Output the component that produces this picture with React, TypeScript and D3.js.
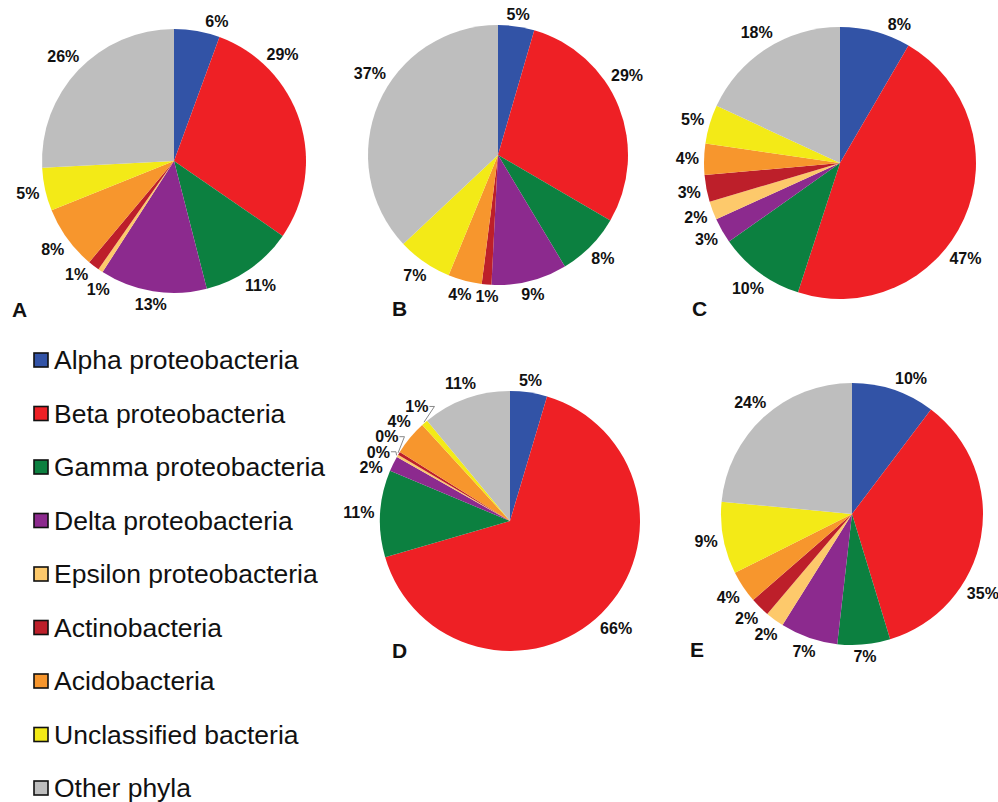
import { arc, pie, scalePoint } from "d3";
import type { PieArcDatum } from "d3";

const categories = [
  "Alpha proteobacteria",
  "Beta proteobacteria",
  "Gamma proteobacteria",
  "Delta proteobacteria",
  "Epsilon proteobacteria",
  "Actinobacteria",
  "Acidobacteria",
  "Unclassified bacteria",
  "Other phyla",
];

const colors = [
  "#3253a6",
  "#ee2025",
  "#0c8040",
  "#8c2a8e",
  "#fdc96b",
  "#bd1f2a",
  "#f7962d",
  "#f3ea17",
  "#bebebe",
];

// percent shares per sample, in category order
const sampleA = [5.6, 29.0, 11.4, 13.1, 0.6, 1.4, 7.8, 5.3, 25.8];
const sampleB = [4.5, 28.9, 8.0, 9.4, 0, 1.2, 4.2, 6.8, 37.0];
const sampleC = [8.4, 46.6, 10.2, 3.0, 2.2, 3.2, 3.7, 4.6, 18.1];
const sampleD = [4.6, 65.9, 10.8, 1.9, 0.3, 0.4, 4.3, 0.8, 11.0];
const sampleE = [10.3, 35.0, 6.5, 7.1, 2.3, 2.4, 4.0, 8.9, 23.5];

const W = 998;
const H = 802;
const FONT = "'Liberation Sans', Arial, Helvetica, sans-serif";
const LABEL_SIZE = 16;

interface Panel {
  id: string;
  values: number[];
  cx: number;
  cy: number;
  r: number;
  letterX: number;
  letterY: number;
  leaders?: boolean;
}

const panels: Panel[] = [
  { id: "A", values: sampleA, cx: 174, cy: 161, r: 132, letterX: 12, letterY: 317 },
  { id: "B", values: sampleB, cx: 498, cy: 155, r: 130, letterX: 392, letterY: 316 },
  { id: "C", values: sampleC, cx: 840, cy: 163, r: 136, letterX: 692, letterY: 316 },
  { id: "D", values: sampleD, cx: 510, cy: 521, r: 130, letterX: 392, letterY: 658, leaders: true },
  { id: "E", values: sampleE, cx: 852, cy: 514, r: 131, letterX: 690, letterY: 657 },
];

// hand-placed label nudges seen in the original (degrees)
const labelShift: Record<string, number> = {
  "A:0": 7,
  "A:1": -27,
  "B:1": -10,
  "B:8": 9,
  "C:0": 8,
  "C:1": 13,
  "E:0": 5,
  "E:1": 21,
};

interface Label {
  i: number;
  text: string;
  x: number;
  y: number;
  w: number;
  mid: number;
}

const pieGen = pie<number>().sort(null).value((d) => d);

function layoutLabels(p: Panel, arcs: PieArcDatum<number>[]): Label[] {
  const labels: Label[] = [];
  arcs.forEach((a, i) => {
    const v = p.values[i];
    if (v === 0) return;
    const text = `${Math.round(v)}%`;
    const w = ((text.length - 1) * 0.556 + 0.889) * LABEL_SIZE;
    const h = 12;
    const mid = (a.startAngle + a.endAngle) / 2 + ((labelShift[`${p.id}:${i}`] ?? 0) * Math.PI) / 180;
    const s = Math.sin(mid);
    const c = Math.cos(mid);
    const dist = p.r + 5 + (w / 2) * Math.abs(s) + (h / 2) * Math.abs(c);
    labels.push({ i, text, x: p.cx + dist * s, y: p.cy - dist * c, w, mid });
  });

  // nudge overlapping labels apart along the circle's tangent
  const gapY = 15;
  for (let iter = 0; iter < 300; iter++) {
    let moved = false;
    for (let a = 0; a < labels.length; a++) {
      for (let b = a + 1; b < labels.length; b++) {
        const [la, lb] = labels[a].mid < labels[b].mid ? [labels[a], labels[b]] : [labels[b], labels[a]];
        const overlapX = Math.abs(la.x - lb.x) < (la.w + lb.w) / 2 + 3;
        const overlapY = Math.abs(la.y - lb.y) < gapY;
        if (!overlapX || !overlapY) continue;
        const t = (la.mid + lb.mid) / 2;
        const tx = Math.cos(t);
        const ty = Math.sin(t);
        const step = 0.5;
        la.x -= tx * step;
        la.y -= ty * step;
        lb.x += tx * step;
        lb.y += ty * step;
        moved = true;
      }
    }
    if (!moved) break;
  }
  return labels;
}

function PiePanel({ p }: { p: Panel }) {
  const arcs = pieGen(p.values);
  const arcGen = arc<PieArcDatum<number>>().innerRadius(0).outerRadius(p.r);
  const labels = layoutLabels(p, arcs);

  return (
    <g>
      <g transform={`translate(${p.cx},${p.cy})`}>
        {arcs.map((a, i) =>
          p.values[i] > 0 ? <path key={i} d={arcGen(a) ?? ""} fill={colors[i]} /> : null
        )}
      </g>
      {p.leaders &&
        labels
          .filter((l) => p.values[l.i] < 1)
          .map((l) => {
            const left = l.x < p.cx;
            const ex = l.x + (left ? l.w / 2 + 1 : -l.w / 2 - 1);
            const tx = p.cx + (p.r + 1) * Math.sin(l.mid);
            const ty = p.cy - (p.r + 1) * Math.cos(l.mid);
            return (
              <polyline
                key={`ld${l.i}`}
                points={`${ex},${l.y} ${ex + (left ? 5 : -5)},${l.y} ${tx},${ty}`}
                fill="none"
                stroke="#7a7a7a"
                strokeWidth={0.9}
              />
            );
          })}
      {labels.map((l) => (
        <text
          key={`lb${l.i}`}
          x={l.x}
          y={l.y}
          dy="0.36em"
          textAnchor="middle"
          fontSize={LABEL_SIZE}
          fontWeight="bold"
          fill="#111"
        >
          {l.text}
        </text>
      ))}
      <text x={p.letterX} y={p.letterY} fontSize={21} fontWeight="bold" fill="#111">
        {p.id}
      </text>
    </g>
  );
}

function Legend() {
  const y = scalePoint<string>().domain(categories).range([360, 360 + 8 * 53.5]);
  return (
    <g>
      {categories.map((c, i) => (
        <g key={c} transform={`translate(0,${y(c) ?? 0})`}>
          <rect x={34} y={-7} width={14} height={14} fill={colors[i]} stroke="#111" strokeWidth={1.6} />
          <text x={54} y={9.3} fontSize={26.5} fill="#111">
            {c}
          </text>
        </g>
      ))}
    </g>
  );
}

export default function App() {
  return (
    <svg
      width={W}
      height={H}
      viewBox={`0 0 ${W} ${H}`}
      style={{ position: "absolute", left: 0, top: 0, background: "#fff" }}
      fontFamily={FONT}
    >
      <rect width={W} height={H} fill="#fff" />
      {panels.map((p) => (
        <PiePanel key={p.id} p={p} />
      ))}
      <Legend />
    </svg>
  );
}
